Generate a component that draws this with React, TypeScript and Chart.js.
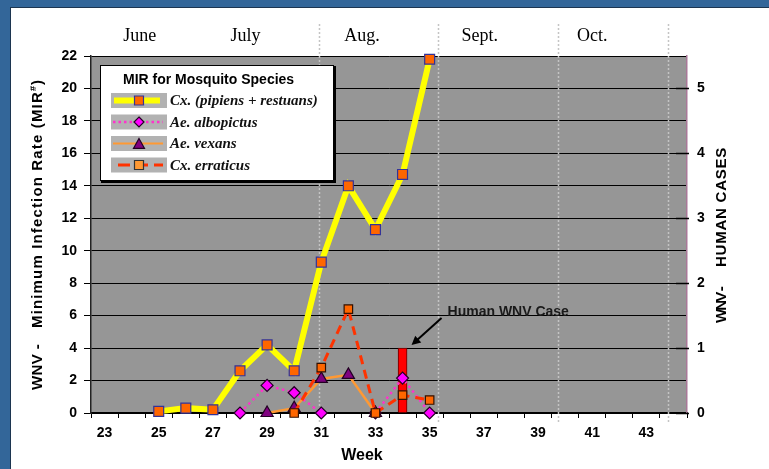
import React, { useEffect, useRef } from 'react';
import { Chart, registerables } from 'chart.js';

Chart.register(...registerables);

// ---------- data ----------
const weeks = ['23', '24', '25', '26', '27', '28', '29', '30', '31', '32', '33', '34', '35', '36', '37', '38', '39', '40', '41', '42', '43', '44'];
const cxPipiensRestuans = [null, null, 0.1, 0.3, 0.2, 2.6, 4.2, 2.6, 9.3, 14.0, 11.3, 14.7, 21.8, null, null, null, null, null, null, null, null, null];
const aeAlbopictus = [null, null, null, null, null, 0, 1.7, 1.25, 0, null, 0, 2.15, 0, null, null, null, null, null, null, null, null, null];
const aeVexans = [null, null, null, null, null, null, 0, 0.3, 2.1, 2.35, 0, null, null, null, null, null, null, null, null, null, null, null];
const cxErraticus = [null, null, null, null, null, null, null, 0, 2.8, 6.4, 0, 1.1, 0.8, null, null, null, null, null, null, null, null, null];
const humanCases = [null, null, null, null, null, null, null, null, null, null, null, 1, null, null, null, null, null, null, null, null, null, null];

const months = ['June', 'July', 'Aug.', 'Sept.', 'Oct.'];
const monthCenterWeeks = [24.3, 28.2, 32.5, 36.85, 41.0];
const monthBoundaryWeeks = [30.9, 35.3, 39.75, 43.8];

const legendTitle = 'MIR for Mosquito Species';
const legendLabels = ['Cx. (pipiens + restuans)', 'Ae. albopictus', 'Ae. vexans', 'Cx. erraticus'];
const leftTitleA = 'WNV -';
const leftTitleB = 'Minimum Infection Rate (MIR';
const rightTitleA = 'WNV -';
const rightTitleB = 'HUMAN CASES';
const xTitle = 'Week';
const annotationText = 'Human WNV Case';

const SANS = '"Liberation Sans", Arial, sans-serif';
const SERIF = '"Liberation Serif", "Times New Roman", serif';

function drawMarker(ctx: CanvasRenderingContext2D, type: string, x: number, y: number, r: number, fill: string, stroke: string, lw: number) {
  ctx.save();
  ctx.beginPath();
  if (type === 'rect') {
    ctx.rect(x - r, y - r, 2 * r, 2 * r);
  } else if (type === 'diamond') {
    ctx.moveTo(x, y - r);
    ctx.lineTo(x + r, y);
    ctx.lineTo(x, y + r);
    ctx.lineTo(x - r, y);
    ctx.closePath();
  } else if (type === 'triangle') {
    ctx.moveTo(x, y - r);
    ctx.lineTo(x + r, y + r * 0.8);
    ctx.lineTo(x - r, y + r * 0.8);
    ctx.closePath();
  }
  ctx.fillStyle = fill;
  ctx.fill();
  ctx.lineWidth = lw;
  ctx.strokeStyle = stroke;
  ctx.stroke();
  ctx.restore();
}

// draws text rotated -90deg, starting at bottomY going upward; returns distance used
function drawSpacedRotated(ctx: CanvasRenderingContext2D, parts: { text: string; len: number }[], cx: number, bottomY: number, gap: number, font: string) {
  ctx.save();
  ctx.translate(cx, bottomY);
  ctx.rotate(-Math.PI / 2);
  ctx.font = font;
  ctx.fillStyle = '#000';
  ctx.textBaseline = 'middle';
  ctx.textAlign = 'left';
  let pos = 0;
  parts.forEach((p, i) => {
    (ctx as any).letterSpacing = '0px';
    const w = ctx.measureText(p.text).width;
    const n = Math.max(p.text.length, 1);
    const sp = (p.len - w) / n;
    (ctx as any).letterSpacing = `${sp.toFixed(2)}px`;
    ctx.fillText(p.text, pos, 0);
    pos += p.len + (i < parts.length - 1 ? gap : 0);
  });
  (ctx as any).letterSpacing = '0px';
  ctx.restore();
  return pos;
}

const decorPlugin = {
  id: 'decor',
  beforeDraw(chart: any) {
    const { ctx, chartArea } = chart;
    const W = chart.width;
    const H = chart.height;
    ctx.save();
    ctx.fillStyle = '#ffffff';
    ctx.fillRect(0, 0, W, H);
    // blue frame
    ctx.fillStyle = '#336699';
    ctx.fillRect(0, 0, W, 7);
    ctx.fillRect(0, 0, 10, H);
    ctx.fillStyle = '#1c3550';
    ctx.fillRect(10, 7, W - 10, 1);
    ctx.fillRect(10, 7, 1, H - 7);
    // plot background
    ctx.fillStyle = '#969696';
    ctx.fillRect(chartArea.left, chartArea.top, chartArea.right - chartArea.left, chartArea.bottom - chartArea.top);
    ctx.restore();
  },
  beforeDatasetsDraw(chart: any) {
    const { ctx } = chart;
    const xs = chart.scales.x;
    ctx.save();
    ctx.strokeStyle = '#c4c4c4';
    ctx.lineWidth = 1.5;
    ctx.setLineDash([2, 2]);
    monthBoundaryWeeks.forEach((w) => {
      const x = Math.round(xs.getPixelForValue(w - 23)) + 0.5;
      ctx.beginPath();
      ctx.moveTo(x, 24);
      ctx.lineTo(x, 424);
      ctx.stroke();
    });
    ctx.restore();
  },
  afterDraw(chart: any) {
    const { ctx, chartArea } = chart;
    const xs = chart.scales.x;
    const y2 = chart.scales.y2;
    ctx.save();

    // months
    ctx.font = `18px ${SERIF}`;
    ctx.fillStyle = '#000';
    ctx.textAlign = 'center';
    ctx.textBaseline = 'middle';
    months.forEach((m, i) => {
      ctx.fillText(m, xs.getPixelForValue(monthCenterWeeks[i] - 23), 36);
    });

    // right axis inner ticks
    ctx.strokeStyle = '#000';
    ctx.lineWidth = 1.5;
    for (let v = 0; v <= 5; v++) {
      const y = Math.round(y2.getPixelForValue(v)) + 0.5;
      ctx.beginPath();
      ctx.moveTo(chartArea.right - 11, y);
      ctx.lineTo(chartArea.right + 2, y);
      ctx.stroke();
    }

    // axis titles
    const leftBottom = 390;
    const used = drawSpacedRotated(ctx, [{ text: leftTitleA, len: 46 }, { text: leftTitleB, len: 237 }], 38, leftBottom, 16, `bold 15px ${SANS}`);
    ctx.save();
    ctx.translate(38, leftBottom - used);
    ctx.rotate(-Math.PI / 2);
    ctx.fillStyle = '#000';
    ctx.textBaseline = 'middle';
    ctx.textAlign = 'left';
    ctx.font = `bold 9px ${SANS}`;
    ctx.fillText('#', 0, -4);
    ctx.font = `bold 15px ${SANS}`;
    ctx.fillText(')', 6, 0);
    ctx.restore();

    drawSpacedRotated(ctx, [{ text: rightTitleA, len: 35 }, { text: rightTitleB, len: 120 }], 722, 323, 21, `bold 15px ${SANS}`);

    ctx.font = `bold 16px ${SANS}`;
    ctx.textAlign = 'center';
    ctx.textBaseline = 'middle';
    ctx.fillStyle = '#000';
    ctx.fillText(xTitle, 362, 456);

    // annotation
    const bx = xs.getPixelForValue(11);
    const by = y2.getPixelForValue(1);
    const tipX = bx + 9;
    const tipY = by - 3;
    const tailX = tipX + 30;
    const tailY = tipY - 27;
    ctx.strokeStyle = '#000';
    ctx.fillStyle = '#000';
    ctx.lineWidth = 2;
    const ang = Math.atan2(tipY - tailY, tipX - tailX);
    ctx.beginPath();
    ctx.moveTo(tailX, tailY);
    ctx.lineTo(tipX - 6 * Math.cos(ang), tipY - 6 * Math.sin(ang));
    ctx.stroke();
    ctx.beginPath();
    ctx.moveTo(tipX, tipY);
    ctx.lineTo(tipX - 9 * Math.cos(ang) + 4.5 * Math.sin(ang), tipY - 9 * Math.sin(ang) - 4.5 * Math.cos(ang));
    ctx.lineTo(tipX - 9 * Math.cos(ang) - 4.5 * Math.sin(ang), tipY - 9 * Math.sin(ang) + 4.5 * Math.cos(ang));
    ctx.closePath();
    ctx.fill();
    ctx.font = `bold 14px ${SANS}`;
    ctx.fillStyle = '#1a1a1a';
    ctx.textAlign = 'left';
    ctx.textBaseline = 'middle';
    ctx.fillText(annotationText, tailX + 6, tailY - 6);

    // legend
    const L = 100, T = 65, R = 334, B = 181;
    ctx.fillStyle = '#000';
    ctx.fillRect(L + 1, T + 1, R - L + 1, B - T + 1);
    ctx.fillStyle = '#fff';
    ctx.fillRect(L, T, R - L, B - T);
    ctx.strokeStyle = '#000';
    ctx.lineWidth = 1;
    ctx.strokeRect(L + 0.5, T + 0.5, R - L - 1, B - T - 1);

    ctx.font = `bold 14px ${SANS}`;
    ctx.fillStyle = '#000';
    ctx.textAlign = 'left';
    ctx.textBaseline = 'middle';
    ctx.fillText(legendTitle, 123, 80);

    const rows = [100.5, 122, 143.5, 165];
    rows.forEach((ry, i) => {
      ctx.fillStyle = '#b2b2b2';
      ctx.fillRect(111, ry - 7.5, 56, 15);
      ctx.save();
      ctx.beginPath();
      if (i === 0) {
        ctx.strokeStyle = '#ffff00';
        ctx.lineWidth = 6;
        ctx.moveTo(114, ry);
        ctx.lineTo(160, ry);
        ctx.stroke();
        ctx.restore();
        drawMarker(ctx, 'rect', 139, ry, 4.5, '#ff6600', '#333399', 1.2);
      } else if (i === 1) {
        ctx.strokeStyle = '#ff33cc';
        ctx.lineWidth = 2.5;
        ctx.setLineDash([2.5, 3]);
        ctx.moveTo(113, ry);
        ctx.lineTo(163, ry);
        ctx.stroke();
        ctx.restore();
        drawMarker(ctx, 'diamond', 139, ry, 5, '#ff00ff', '#220022', 1.2);
      } else if (i === 2) {
        ctx.strokeStyle = '#ff9933';
        ctx.lineWidth = 2;
        ctx.moveTo(113, ry);
        ctx.lineTo(163, ry);
        ctx.stroke();
        ctx.restore();
        drawMarker(ctx, 'triangle', 139, ry + 0.5, 5.5, '#800080', '#220022', 1.2);
      } else {
        ctx.strokeStyle = '#ff3300';
        ctx.lineWidth = 3;
        ctx.setLineDash([12, 6]);
        ctx.moveTo(118, ry);
        ctx.lineTo(163, ry);
        ctx.stroke();
        ctx.restore();
        drawMarker(ctx, 'rect', 139, ry, 4.5, '#ff9933', '#333333', 1.2);
      }
      ctx.font = `italic bold 15px ${SERIF}`;
      ctx.fillStyle = '#111';
      ctx.textAlign = 'left';
      ctx.textBaseline = 'middle';
      ctx.fillText(legendLabels[i], 170, ry + 1);
    });

    ctx.restore();
  },
};

export default function App() {
  const ref = useRef<HTMLCanvasElement | null>(null);

  useEffect(() => {
    document.body.style.margin = '0';
    const canvas = ref.current;
    if (!canvas) return;
    const chart = new Chart(canvas, {
      type: 'bar',
      data: {
        labels: weeks,
        datasets: [
          {
            type: 'line',
            label: legendLabels[0],
            data: cxPipiensRestuans,
            borderColor: '#ffff00',
            borderWidth: 6,
            pointStyle: 'rect',
            pointRadius: 7,
            pointBackgroundColor: '#ff6600',
            pointBorderColor: '#333399',
            pointBorderWidth: 1.2,
            tension: 0,
            spanGaps: false,
            yAxisID: 'y',
            order: 4,
            clip: false,
          } as any,
          {
            type: 'line',
            label: legendLabels[1],
            data: aeAlbopictus,
            borderColor: '#ff33cc',
            borderWidth: 2.5,
            borderDash: [2.5, 3.5],
            pointStyle: 'rectRot',
            pointRadius: 6,
            pointBackgroundColor: '#ff00ff',
            pointBorderColor: '#220022',
            pointBorderWidth: 1.2,
            tension: 0,
            spanGaps: false,
            yAxisID: 'y',
            order: 3,
            clip: false,
          } as any,
          {
            type: 'line',
            label: legendLabels[2],
            data: aeVexans,
            borderColor: '#ff9933',
            borderWidth: 2.5,
            pointStyle: 'triangle',
            pointRadius: 7,
            pointBackgroundColor: '#800080',
            pointBorderColor: '#220022',
            pointBorderWidth: 1.2,
            tension: 0,
            spanGaps: false,
            yAxisID: 'y',
            order: 2,
            clip: false,
          } as any,
          {
            type: 'line',
            label: legendLabels[3],
            data: cxErraticus,
            borderColor: '#ff3300',
            borderWidth: 3,
            borderDash: [9, 6],
            pointStyle: 'rect',
            pointRadius: 6,
            pointBackgroundColor: '#ff6600',
            pointBorderColor: '#331100',
            pointBorderWidth: 1.2,
            tension: 0,
            spanGaps: false,
            yAxisID: 'y',
            order: 1,
            clip: false,
          } as any,
          {
            type: 'bar',
            label: 'Human WNV Case',
            data: humanCases,
            backgroundColor: '#ff0000',
            borderColor: '#660000',
            borderWidth: 1,
            barThickness: 9,
            yAxisID: 'y2',
            order: 5,
          } as any,
        ],
      },
      options: {
        animation: false,
        responsive: false,
        devicePixelRatio: 1,
        layout: { padding: { top: 56, left: 0, right: 0, bottom: 0 } },
        plugins: {
          legend: { display: false },
          tooltip: { enabled: false },
          title: { display: false },
        },
        scales: {
          x: {
            type: 'category',
            offset: true,
            grid: {
              offset: true,
              drawOnChartArea: false,
              drawTicks: true,
              tickLength: 5,
              color: '#000',
            },
            border: { display: true, color: '#000', width: 1.5 },
            ticks: {
              autoSkip: false,
              maxRotation: 0,
              minRotation: 0,
              padding: 7,
              color: '#000',
              font: { family: SANS, size: 14, weight: 'bold' },
              callback: (v: any, i: number) => (parseInt(weeks[i], 10) % 2 === 1 ? weeks[i] : ''),
            },
            afterFit: (s: any) => {
              s.height = 56;
            },
          },
          y: {
            position: 'left',
            min: 0,
            max: 22,
            ticks: {
              stepSize: 2,
              padding: 7,
              color: '#000',
              font: { family: SANS, size: 14, weight: 'bold' },
            },
            grid: {
              color: '#000',
              lineWidth: 1,
              drawTicks: true,
              tickLength: 7,
            },
            border: { display: true, color: '#222', width: 1.5 },
            afterFit: (s: any) => {
              s.width = 91;
            },
          },
          y2: {
            position: 'right',
            min: 0,
            max: 5.5,
            ticks: {
              stepSize: 1,
              padding: 10,
              color: '#000',
              font: { family: SANS, size: 14, weight: 'bold' },
            },
            afterBuildTicks: (s: any) => {
              s.ticks = s.ticks.filter((t: any) => Number.isInteger(t.value));
            },
            grid: {
              drawOnChartArea: false,
              drawTicks: false,
            },
            border: { display: true, color: '#a87898', width: 1.5 },
            afterFit: (s: any) => {
              s.width = 82;
            },
          },
        },
      } as any,
      plugins: [decorPlugin],
    });
    return () => chart.destroy();
  }, []);

  return (
    <div style={{ width: 769, height: 469, position: 'relative' }}>
      <canvas ref={ref} width={769} height={469} style={{ display: 'block', width: 769, height: 469 }} />
    </div>
  );
}
